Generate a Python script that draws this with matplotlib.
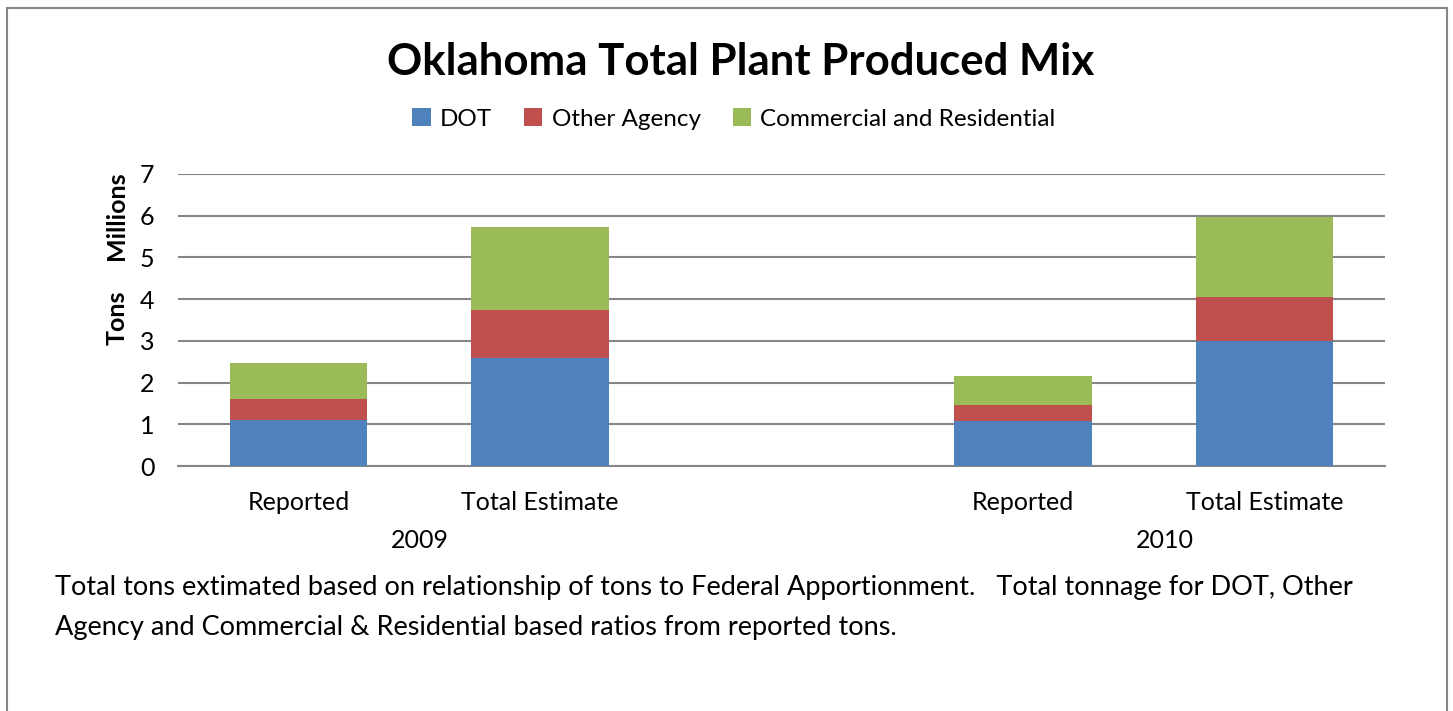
import numpy as np
import matplotlib
matplotlib.use('Agg')
from matplotlib import pyplot as plt
from matplotlib.patches import Rectangle

plt.rcParams['font.family'] = ['Lato', 'DejaVu Sans']

# data (millions of tons)
categories = ['Reported', 'Total Estimate', '', 'Reported', 'Total Estimate']
years = ['2009', '2010']
dot = [1.10, 2.59, 0, 1.08, 3.00]
other_agency = [0.51, 1.15, 0, 0.38, 1.05]
commercial = [0.86, 1.99, 0, 0.70, 1.92]
series_names = ['DOT', 'Other Agency', 'Commercial and Residential']
colors = ['#4F81BD', '#C0504D', '#9BBB59']

W, H = 1453, 711
fig = plt.figure(figsize=(W / 100, H / 100), dpi=100)

# outer frame
fig.patches.append(Rectangle((7 / W, -0.1), (1447 - 7) / W, 1.1 - 8 / H,
                             transform=fig.transFigure, fill=False,
                             edgecolor='#868686', linewidth=1.5))

ax = fig.add_axes([178 / W, 1 - 466 / H, (1385 - 178) / W, (466 - 174) / H])

x = np.arange(len(categories))
dot = np.array(dot)
other_agency = np.array(other_agency)
commercial = np.array(commercial)
ax.bar(x, dot, width=0.57, color=colors[0], label=series_names[0], zorder=3)
ax.bar(x, other_agency, width=0.57, bottom=dot, color=colors[1], label=series_names[1], zorder=3)
ax.bar(x, commercial, width=0.57, bottom=dot + other_agency, color=colors[2], label=series_names[2], zorder=3)

ax.set_xlim(-0.5, len(categories) - 0.5)
ax.set_ylim(0, 7)
ax.set_yticks(range(0, 8))
ax.yaxis.grid(True, color='#868686', linewidth=1.5, zorder=0)
ax.set_axisbelow(True)
for s in ['top', 'right', 'left']:
    ax.spines[s].set_visible(False)
ax.spines['bottom'].set_color('#868686')
ax.spines['bottom'].set_linewidth(1.5)
ax.tick_params(axis='y', length=0, labelsize=18, pad=17)
ax.tick_params(axis='x', length=0, labelsize=18, pad=18)
ax.set_xticks(x)
ax.set_xticklabels(categories)

# year group labels
ax.text(0.5, -0.255, years[0], transform=ax.get_xaxis_transform(), ha='center', va='center', fontsize=18)
ax.text(3.59, -0.255, years[1], transform=ax.get_xaxis_transform(), ha='center', va='center', fontsize=18)

# y label (two words, spaced like the original)
fig.text(117 / W, 1 - 318 / H, 'Tons', rotation=90, ha='center', va='center',
         fontsize=18, fontweight='bold')
fig.text(117 / W, 1 - 216 / H, 'Millions', rotation=90, ha='center', va='center',
         fontsize=18, fontweight='bold')

fig.text(741 / W, 1 - 62 / H, 'Oklahoma Total Plant Produced Mix', ha='center', va='center',
         fontsize=31.5, fontweight='bold')

leg = fig.legend(loc='center', bbox_to_anchor=(734 / W, 1 - 119 / H), ncol=3, frameon=False,
                 fontsize=17.5, handlelength=0.75, handleheight=0.75, handletextpad=0.4,
                 columnspacing=1.3)

fig.text(55 / W, 1 - 588 / H, 'Total tons extimated based on relationship of tons to Federal Apportionment.   Total tonnage for DOT, Other',
         ha='left', va='center', fontsize=19.5)
fig.text(55 / W, 1 - 627 / H, 'Agency and Commercial & Residential based ratios from reported tons.',
         ha='left', va='center', fontsize=19.5)

fig.savefig('out.png', dpi=100)
